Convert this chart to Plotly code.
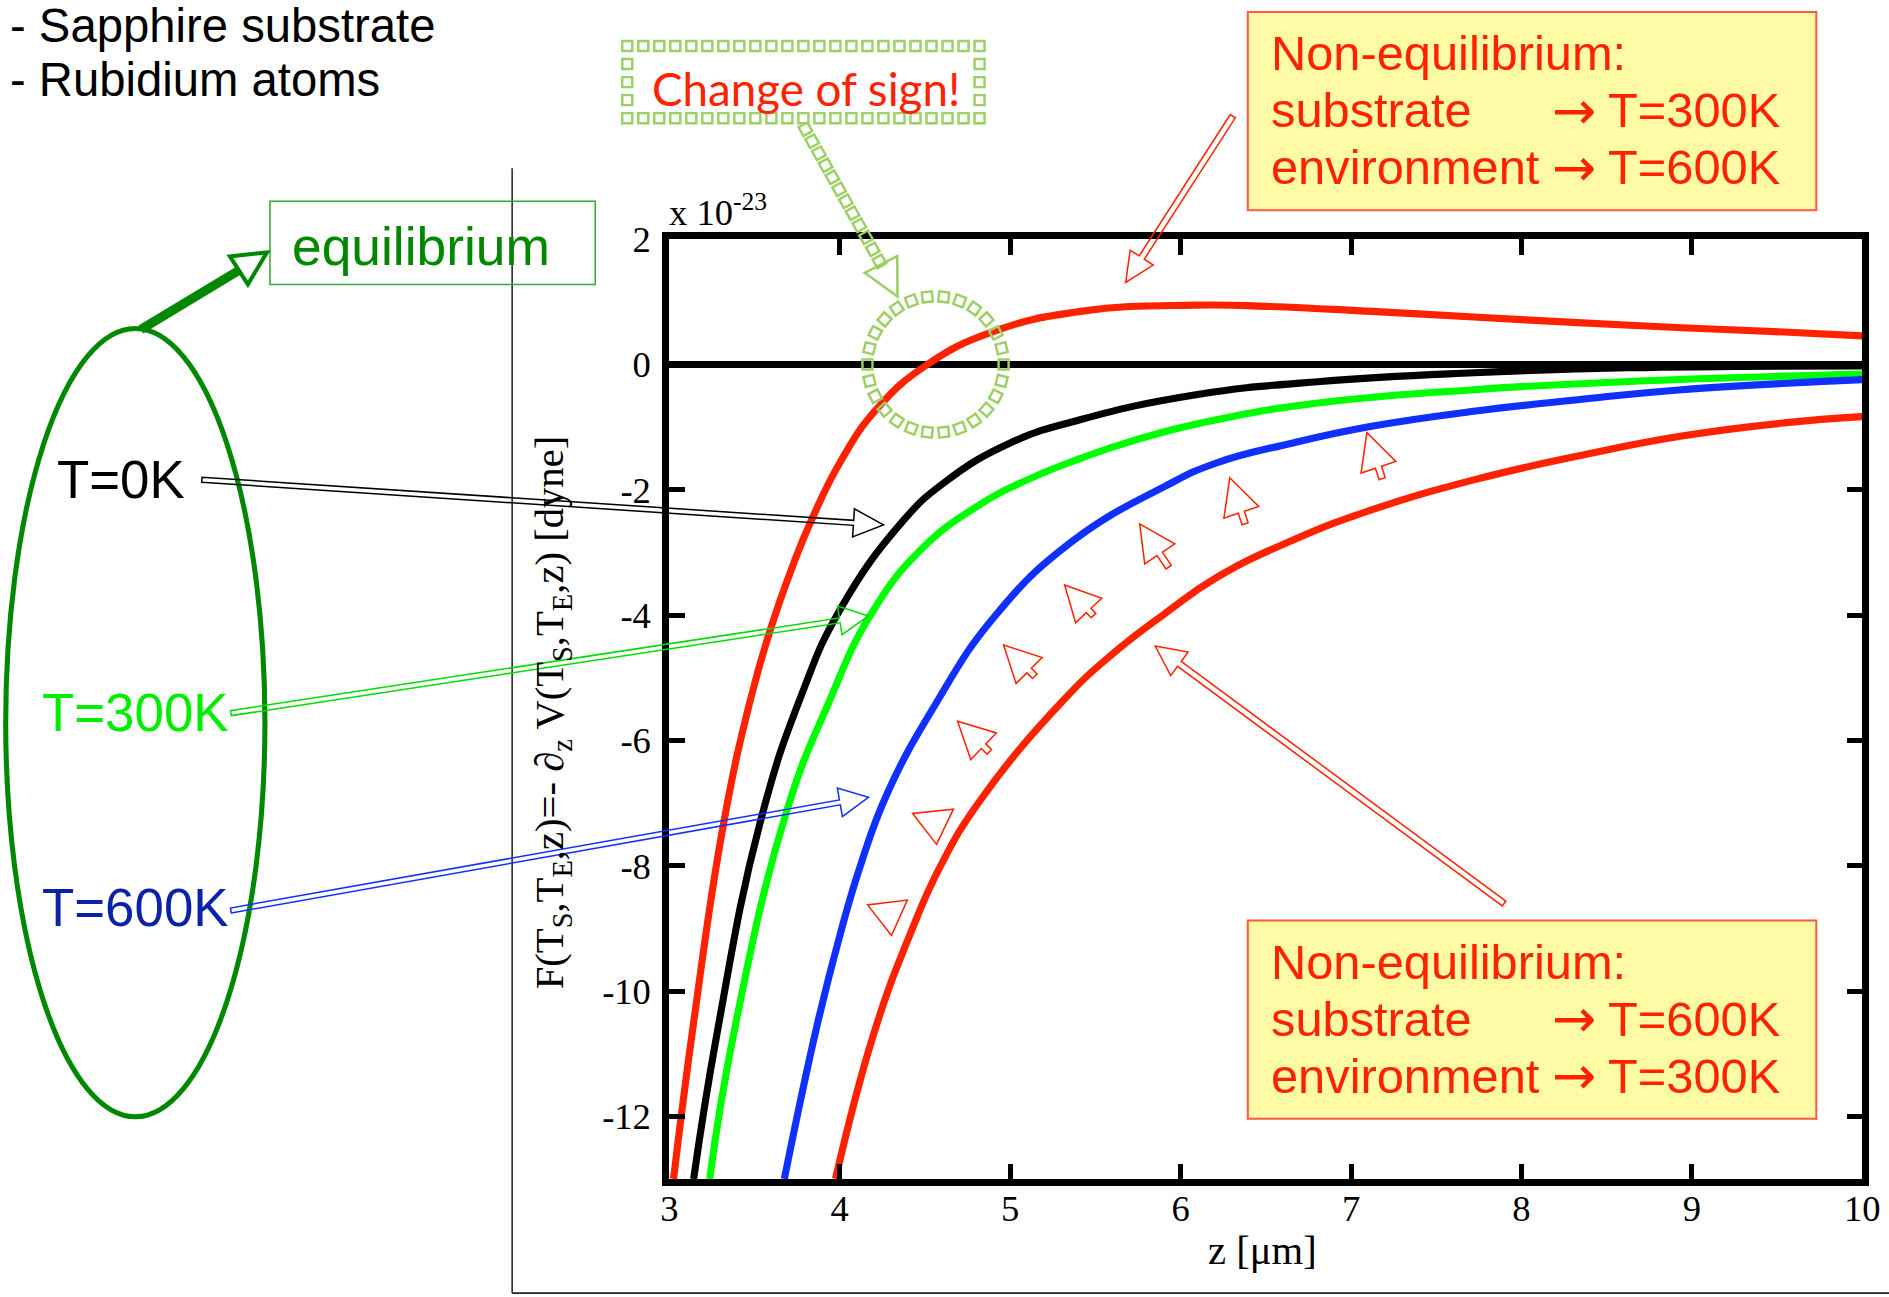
import math
import plotly.graph_objects as go

# Target coordinates are given in pixels of the 1889x1297 reference picture.
# The rendered page shows the figure slightly scaled and offset; these factors
# map a reference pixel to the figure pixel that lands on it.
SX, SY = 0.985, 0.983
BX, BY = 9.3, 21.0
FW, FH = 1912, 1302
K = 1 / 0.984  # size compensation for fonts / line widths

# ---------------- data ----------------
z_T0 = [3.143, 3.28, 3.534, 3.779, 4.00, 4.36, 4.61, 5.00, 5.41, 6.09, 6.82, 7.72, 8.63, 10.0]
F_T0 = [-13.0, -10.68, -7.30, -5.25, -3.92, -2.53, -1.89, -1.25, -0.88, -0.48, -0.27, -0.13, -0.05, -0.02]

z_T300 = [3.237, 3.378, 3.691, 3.93, 4.18, 4.474, 4.807, 5.10, 5.41, 5.69, 6.21, 6.82, 7.72, 8.63, 10.0]
F_T300 = [-13.0, -10.68, -7.11, -5.43, -4.00, -2.96, -2.26, -1.84, -1.50, -1.24, -0.88, -0.61, -0.40, -0.27, -0.15]

z_T600 = [3.675, 3.867, 4.004, 4.12, 4.278, 4.56, 4.90, 5.35, 5.91, 6.21, 6.66, 7.12, 7.72, 8.33, 8.94, 10.0]
F_T600 = [-13.0, -10.55, -9.08, -8.01, -6.85, -5.43, -4.05, -2.85, -1.94, -1.57, -1.25, -0.985, -0.745, -0.56, -0.40, -0.24]

z_S300_E600 = [3.025, 3.143, 3.319, 3.476, 3.593, 3.73, 3.828, 4.004, 4.22, 4.513, 4.904, 5.413, 6.09, 6.51, 7.12, 7.72, 8.33, 8.94, 9.54, 10.0]
F_S300_E600 = [-13.0, -10.50, -7.32, -5.35, -4.23, -3.17, -2.52, -1.55, -0.70, 0.0, 0.53, 0.85, 0.95, 0.93, 0.85, 0.76, 0.67, 0.59, 0.52, 0.46]

z_S600_E300 = [3.975, 4.20, 4.415, 4.59, 4.826, 5.315, 5.60, 5.91, 6.21, 6.66, 7.12, 7.72, 8.33, 8.94, 9.54, 10.0]
F_S600_E300 = [-13.0, -10.68, -9.08, -8.01, -6.95, -5.35, -4.62, -3.97, -3.40, -2.80, -2.32, -1.84, -1.46, -1.14, -0.93, -0.83]

x_tickvals = [3, 4, 5, 6, 7, 8, 9, 10]
x_ticktext = ["3", "4", "5", "6", "7", "8", "9", "10"]
y_tickvals = [2, 0, -2, -4, -6, -8, -10, -12]
y_ticktext = ["2", "0", "-2", "-4", "-6", "-8", "-10", "-12"]

# ---------------- styles ----------------
RED = "#ff2200"
SANS = "Liberation Sans, Arial, sans-serif"
SERIF = "Liberation Serif, Times New Roman, serif"
LGREEN = "#9bd064"

fig = go.Figure()
series = [
    (z_T0, F_T0, "#000000", "T=0K"),
    (z_T300, F_T300, "#00ff00", "T=300K"),
    (z_T600, F_T600, "#1030ff", "T=600K"),
    (z_S300_E600, F_S300_E600, RED, "S300 E600"),
    (z_S600_E300, F_S600_E300, RED, "S600 E300"),
]
for zs, fs, col, nm in series:
    fig.add_trace(go.Scatter(x=zs, y=fs, mode="lines", name=nm,
                             line=dict(color=col, width=7 * K, shape="spline", smoothing=1.3),
                             hoverinfo="skip"))

# ---------------- helpers in reference-pixel space ----------------
shapes = []
annotations = []


def pp(X, Y):
    fx = (X - BX) / SX
    fy = (Y - BY) / SY
    return fx / FW, 1 - fy / FH


def path_str(pts, close=True):
    parts = []
    for X, Y in pts:
        x, y = pp(X, Y)
        parts.append(f"{x:.5f},{y:.5f}")
    return "M " + " L ".join(parts) + (" Z" if close else "")


def add_path(pts, color, width, close=True, fill="rgba(0,0,0,0)"):
    shapes.append(dict(type="path", xref="paper", yref="paper", path=path_str(pts, close),
                       line=dict(color=color, width=width * K), fillcolor=fill, layer="above"))


def add_line(X0, Y0, X1, Y1, color, width):
    x0, y0 = pp(X0, Y0)
    x1, y1 = pp(X1, Y1)
    shapes.append(dict(type="line", xref="paper", yref="paper", x0=x0, y0=y0, x1=x1, y1=y1,
                       line=dict(color=color, width=width * K), layer="above"))


def add_rect(X0, Y0, X1, Y1, color, width, fill="rgba(0,0,0,0)"):
    x0, y0 = pp(X0, Y0)
    x1, y1 = pp(X1, Y1)
    shapes.append(dict(type="rect", xref="paper", yref="paper", x0=x0, y0=y1, x1=x1, y1=y0,
                       line=dict(color=color, width=width * K), fillcolor=fill, layer="above"))


def block_arrow(start, tip, head_len, head_hw, shaft_hw):
    sx, sy = start
    tx, ty = tip
    L = math.hypot(tx - sx, ty - sy)
    ux, uy = (tx - sx) / L, (ty - sy) / L
    nx, ny = -uy, ux
    bx, by = tx - ux * head_len, ty - uy * head_len
    if L - head_len < 0.5:
        return [(bx + nx * head_hw, by + ny * head_hw), (tx, ty), (bx - nx * head_hw, by - ny * head_hw)]
    return [(sx + nx * shaft_hw, sy + ny * shaft_hw), (bx + nx * shaft_hw, by + ny * shaft_hw),
            (bx + nx * head_hw, by + ny * head_hw), (tx, ty),
            (bx - nx * head_hw, by - ny * head_hw), (bx - nx * shaft_hw, by - ny * shaft_hw),
            (sx - nx * shaft_hw, sy - ny * shaft_hw)]


def small_arrow(tip, base, head_hw, stem_len, stem_hw=3.5):
    tx, ty = tip
    bx, by = base
    hl = math.hypot(tx - bx, ty - by)
    ux, uy = (tx - bx) / hl, (ty - by) / hl
    start = (bx - ux * stem_len, by - uy * stem_len)
    return block_arrow(start, tip, hl, head_hw, stem_hw)


def hollow_square(cx, cy, ang, s=10):
    h = s / 2
    c, si = math.cos(ang), math.sin(ang)
    pts = []
    for a, b in [(-h, -h), (h, -h), (h, h), (-h, h)]:
        pts.append((cx + a * c - b * si, cy + a * si + b * c))
    add_path(pts, LGREEN, 2.4)


def text(X, Y, s, size, color, family=SANS, xanchor="left", yanchor="middle", angle=0):
    x, y = pp(X, Y)
    annotations.append(dict(x=x, y=y, xref="paper", yref="paper", text=s, showarrow=False,
                            xanchor=xanchor, yanchor=yanchor, textangle=angle,
                            font=dict(size=size * K, color=color, family=family)))


# ---------------- left-side decoration ----------------
add_line(512, 169, 512, 1292, "#222222", 1.5)
add_line(512, 1292, 1889, 1292, "#222222", 1.5)

text(8, 26, "- Sapphire substrate", 46.5, "#000000")
text(8, 80, "- Rubidium atoms", 46.5, "#000000")

add_rect(270, 202, 595, 285, "#33aa33", 1.5)
text(290, 247, "equilibrium", 52.5, "#008800")
add_line(141, 330, 239, 271, "#008800", 9)
add_path(small_arrow((267, 253), (239, 271), 16.6, 0), "#008800", 4)

x0, y0 = pp(6, 329)
x1, y1 = pp(265, 1116)
shapes.append(dict(type="circle", xref="paper", yref="paper", x0=x0, y0=y1, x1=x1, y1=y0,
                   line=dict(color="#008800", width=5 * K), layer="above"))

text(55, 480, "T=0K", 52, "#000000")
text(40, 712, "T=300K", 52, "#00ee00")
text(40, 907, "T=600K", 52, "#0a22a8")

add_path(block_arrow((202, 480), (883, 525), 30, 14, 2.5), "#000000", 1.5)
add_path(block_arrow((231, 713), (868, 616), 29, 14.5, 2.5), "#00dd00", 1.5)
add_path(block_arrow((231, 910), (868, 797), 29, 14.5, 2.5), "#1030ff", 1.5)

# ---------------- change of sign ----------------
bx0, by0, bx1, by1 = 627, 47, 979, 119
step = 16
for (ax, ay), (cx, cy) in [((bx0, by0), (bx1, by0)), ((bx1, by0), (bx1, by1)),
                           ((bx1, by1), (bx0, by1)), ((bx0, by1), (bx0, by0))]:
    L = math.hypot(cx - ax, cy - ay)
    n = max(1, round(L / step))
    for i in range(n):
        t = i / n
        hollow_square(ax + (cx - ax) * t, ay + (cy - ay) * t, 0.0)

text(806, 89, "Change of sign!", 45, RED, family="Comic Sans MS, Lato, sans-serif", xanchor="center")

sx, sy, ex, ey = 805, 130, 879, 262
L = math.hypot(ex - sx, ey - sy)
n = round(L / 14)
ang = math.atan2(ey - sy, ex - sx)
for i in range(n + 1):
    t = i / n
    hollow_square(sx + (ex - sx) * t, sy + (ey - sy) * t, ang)
add_path(small_arrow((897, 297), (880.5, 265), 18.3, 0), LGREEN, 2.5)

ccx, ccy, cr = 935, 365, 68
nc = 26
for i in range(nc):
    th = 2 * math.pi * i / nc
    hollow_square(ccx + cr * math.cos(th), ccy + cr * math.sin(th), th)

# ---------------- non-equilibrium boxes ----------------
for top, l2, l3 in [(13, "T=300K", "T=600K"), (920, "T=600K", "T=300K")]:
    add_rect(1247, top, 1815, top + 198, "#ff5a40", 2, fill="#fffaa6")
    text(1268, top + 41, "Non-equilibrium:", 48, RED)
    text(1268, top + 98, "substrate", 48, RED)
    text(1549, top + 98, "\u2192", 52, RED, family="DejaVu Sans, sans-serif")
    text(1605, top + 98, l2, 48, RED)
    text(1268, top + 155, "environment", 48, RED)
    text(1549, top + 155, "\u2192", 52, RED, family="DejaVu Sans, sans-serif")
    text(1605, top + 155, l3, 48, RED)

add_path(block_arrow((1232, 117), (1125, 283), 29.5, 13.7, 3), RED, 1.5)
add_path(block_arrow((1503, 903), (1154.5, 646), 30, 14.6, 3), RED, 1.5)

small = [
    ((891, 935), (887, 902), 20, 0),
    ((936, 844), (932.5, 811), 20.5, 0),
    ((957, 721), (983, 746), 18.4, 8),
    ((1003, 645), (1028.5, 670.5), 18.4, 8),
    ((1064, 585), (1088, 610.5), 17.9, 7),
    ((1139, 524), (1159, 554), 18, 16),
    ((1229, 478), (1240.5, 512.5), 18.3, 12),
    ((1366, 433), (1377.5, 467.5), 18.3, 12),
]
for tip, base, hw, sl in small:
    add_path(small_arrow(tip, base, hw, sl, 3.2), RED, 1.5)

# ---------------- axis texts ----------------
text(667, 236, "x 10<sup>-23</sup>", 36, "#000000", family=SERIF, yanchor="bottom")
text(552, 712, "F(T<sub>S</sub>,T<sub>E</sub>,z)=- \u2202<sub>z</sub> V(T<sub>S</sub>,T<sub>E</sub>,z) [dyne]",
     40, "#000000", family=SERIF, xanchor="center", angle=-90)
text(1262, 1249, "z [\u03bcm]", 40, "#000000", family=SERIF, xanchor="center")

axis_common = dict(showline=True, linewidth=7 * K, linecolor="#000000", mirror="ticks",
                   ticks="inside", ticklen=15 * K, tickwidth=5 * K, tickcolor="#000000",
                   showgrid=False, tickfont=dict(family=SERIF, size=36 * K, color="#000000"))

xd0, _ = pp(669, 0)
xd1, _ = pp(1861, 0)
_, yd1 = pp(0, 240)
_, yd0 = pp(0, 1178)

fig.update_layout(
    width=FW, height=FH, margin=dict(l=0, r=0, t=0, b=0, pad=0),
    paper_bgcolor="white", plot_bgcolor="rgba(0,0,0,0)", showlegend=False,
    xaxis=dict(domain=[xd0, xd1], range=[3, 10], tickmode="array",
               tickvals=x_tickvals, ticktext=x_ticktext, zeroline=False,
               ticklabelstandoff=-9, **axis_common),
    yaxis=dict(domain=[yd0, yd1], range=[-13, 2], tickmode="array",
               tickvals=y_tickvals, ticktext=y_ticktext, zeroline=True,
               zerolinewidth=7 * K, zerolinecolor="#000000", ticklabelstandoff=4, **axis_common),
    shapes=shapes, annotations=annotations,
)

fig.write_html("out.html")
